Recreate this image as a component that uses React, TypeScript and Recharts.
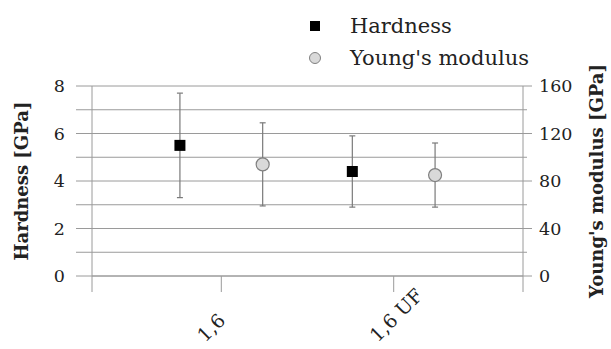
import React from "react";
import {
  ComposedChart,
  Scatter,
  ErrorBar,
  XAxis,
  YAxis,
  CartesianGrid,
  Legend,
} from "recharts";

const categories = ["1,6", "1,6 UF"];
const hardness = [5.5, 4.4];
const hardnessErr = [2.2, 1.5];
const modulus = [94, 85];
const modulusErr = [35, 27];

const hardnessTicks = [0, 1, 2, 3, 4, 5, 6, 7, 8];
const modulusTicks = [0, 20, 40, 60, 80, 100, 120, 140, 160];

const FONT = "'DejaVu Serif', serif";
const GRID = "#9a9a9a";
const TEXT = "#222";

// category slots on a 0..10 x axis, the two series sit either side of the slot
const catX = categories.map((_, i) => 3 + 4 * i);
const SHIFT = 0.96;

const hardnessData = categories.map((c, i) => ({
  name: c,
  x: catX[i] - SHIFT,
  y: hardness[i],
  err: hardnessErr[i],
}));
const modulusData = categories.map((c, i) => ({
  name: c,
  x: catX[i] + SHIFT,
  y: modulus[i],
  err: modulusErr[i],
}));

function XTick(props: any) {
  const { x, y, payload } = props;
  const idx = catX.indexOf(payload.value);
  if (idx < 0) return <g />;
  const ax = x - 16;
  const ay = y + 49;
  return (
    <text
      x={ax}
      y={ay}
      transform={`rotate(-45 ${ax} ${ay})`}
      textAnchor="start"
      fontSize={19}
      fontFamily={FONT}
      fill={TEXT}
    >
      {categories[idx]}
    </text>
  );
}

function RightTick(props: any) {
  const { x, y, payload } = props;
  const ax = x - 16;
  const major = payload.value % 40 === 0;
  return (
    <g>
      <line x1={ax} x2={ax + (major ? 9 : 4)} y1={y} y2={y} stroke={GRID} />
      {major && (
        <text x={x} y={y} dy="0.36em" fontSize={17.5} fontFamily={FONT} fill={TEXT}>
          {payload.value}
        </text>
      )}
    </g>
  );
}

const legendItems = [
  { name: "Hardness", kind: "square" },
  { name: "Young's modulus", kind: "circle" },
];

function LegendBox() {
  return (
    <div style={{ fontFamily: FONT, fontSize: 21, color: TEXT }}>
      {legendItems.map((item) => (
        <div key={item.name} style={{ display: "flex", alignItems: "center", height: 32 }}>
          <svg width={50} height={32}>
            {item.kind === "square" ? (
              <rect x={10} y={11} width={10} height={10} fill="#000" />
            ) : (
              <circle cx={15} cy={16} r={5.5} fill="#d9d9d9" stroke="#808080" />
            )}
          </svg>
          <span>{item.name}</span>
        </div>
      ))}
    </div>
  );
}

const Square = (p: any) => (
  <rect x={p.cx - 5.5} y={p.cy - 5.5} width={11} height={11} fill="#000" />
);
const Dot = (p: any) => (
  <circle cx={p.cx} cy={p.cy} r={6.5} fill="#d9d9d9" stroke="#808080" strokeWidth={1.2} />
);

export default function App() {
  return (
    <div style={{ position: "absolute", left: 0, top: 0, background: "#fff" }}>
      <ComposedChart width={611} height={349} margin={{ top: 86, right: 0, bottom: 0, left: 0 }}>
        <CartesianGrid yAxisId="left" horizontal vertical={false} stroke={GRID} />
        <XAxis
          type="number"
          dataKey="x"
          domain={[0, 10]}
          ticks={[0, ...catX, 10]}
          interval={0}
          height={73}
          tickSize={16}
          stroke={GRID}
          tick={<XTick />}
        />
        <YAxis
          yAxisId="left"
          type="number"
          dataKey="y"
          domain={[0, 8]}
          ticks={hardnessTicks}
          interval={0}
          width={92}
          tickSize={16}
          tickMargin={11}
          stroke={GRID}
          tickFormatter={(v: number) => (v % 2 === 0 ? String(v) : "")}
          tick={{ fill: TEXT, fontSize: 17.5, fontFamily: FONT }}
          label={{
            value: "Hardness [GPa]",
            angle: -90,
            position: "insideLeft",
            offset: 22,
            style: { textAnchor: "middle", fontFamily: FONT, fontSize: 18, fontWeight: "bold", fill: TEXT },
          }}
        />
        <YAxis
          yAxisId="right"
          orientation="right"
          type="number"
          dataKey="y"
          domain={[0, 160]}
          ticks={modulusTicks}
          interval={0}
          width={88}
          tickSize={9}
          tickMargin={7}
          tickLine={false}
          stroke={GRID}
          tick={<RightTick />}
          label={{
            value: "Young's modulus [GPa]",
            angle: -90,
            position: "insideRight",
            offset: 14,
            style: { textAnchor: "middle", fontFamily: FONT, fontSize: 18, fontWeight: "bold", fill: TEXT },
          }}
        />
        <Legend
          layout="vertical"
          align="center"
          verticalAlign="middle"
          wrapperStyle={{ left: 300, top: 10, width: 260 }}
          content={<LegendBox />}
        />
        <Scatter
          name="Hardness"
          data={hardnessData}
          yAxisId="left"
          shape={Square}
          isAnimationActive={false}
        >
          <ErrorBar dataKey="err" direction="y" width={3} stroke="#7a7a7a" strokeWidth={1.2} />
        </Scatter>
        <Scatter
          name="Young's modulus"
          data={modulusData}
          yAxisId="right"
          shape={Dot}
          isAnimationActive={false}
        >
          <ErrorBar dataKey="err" direction="y" width={3} stroke="#7a7a7a" strokeWidth={1.2} />
        </Scatter>
      </ComposedChart>
    </div>
  );
}
